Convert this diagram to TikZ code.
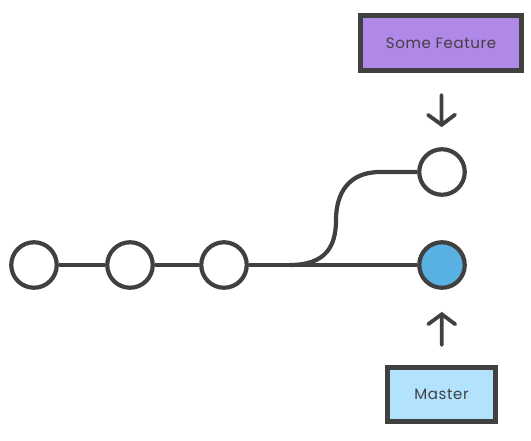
\documentclass[tikz,border=0pt]{standalone}
\usepackage{fontspec}
\setmainfont{Poppins}[LetterSpace=4]
\usetikzlibrary{arrows.meta}
\definecolor{gitline}{HTML}{404040}
\definecolor{gitpurple}{HTML}{B088E8}
\definecolor{gitblue}{HTML}{59B0E3}
\definecolor{gitlightblue}{HTML}{B3E2FF}
\newcommand{\branchfont}{\fontsize{15}{18}\selectfont}
\tikzset{
  commit/.style={circle,draw=gitline,line width=4.2pt,fill=white,
    minimum size=45.5pt,inner sep=0pt},
  branchbox/.style={draw=gitline,line width=4.6pt,text=gitline,
    inner sep=0pt,font=\branchfont},
  pointer/.style={draw=gitline,line width=3.8pt,line cap=round,
    -{Straight Barb[length=10pt,width=27pt,line cap=round]}},
  history/.style={draw=gitline,line width=4.2pt}
}

\begin{document}
\begin{tikzpicture}[x=1pt,y=-1pt]
  \useasboundingbox (0,0) rectangle (531,441);

  % commits
  \node[commit] (c1) at (34,265) {};
  \node[commit] (c2) at (130,265) {};
  \node[commit] (c3) at (224,265) {};
  \node[commit,fill=gitblue] (c4) at (442,265) {};
  \node[commit] (f1) at (442,172) {};
  \coordinate (fork) at (290,265);

  \draw[history] (c1) -- (c2);
  \draw[history] (c2) -- (c3);
  \draw[history] (c3) -- (c4);
  \draw[history] (fork) .. controls (326,265) and (336,246) .. (336,220)
    .. controls (336,194) and (348,172) .. (380,172) -- (f1);

  % branch labels
  \node[branchbox,fill=gitpurple,minimum width=161.5pt,minimum height=55.5pt]
    (feature) at (441,43) {Some Feature};
  \node[branchbox,fill=gitlightblue,minimum width=108.5pt,minimum height=54.5pt]
    (master) at (441.5,394.5) {Master};

  \draw[pointer,shorten <=22pt,shorten >=20pt] (feature) -- (f1);
  \draw[pointer,shorten <=20pt,shorten >=22pt] (master) -- (c4);
\end{tikzpicture}
\end{document}
